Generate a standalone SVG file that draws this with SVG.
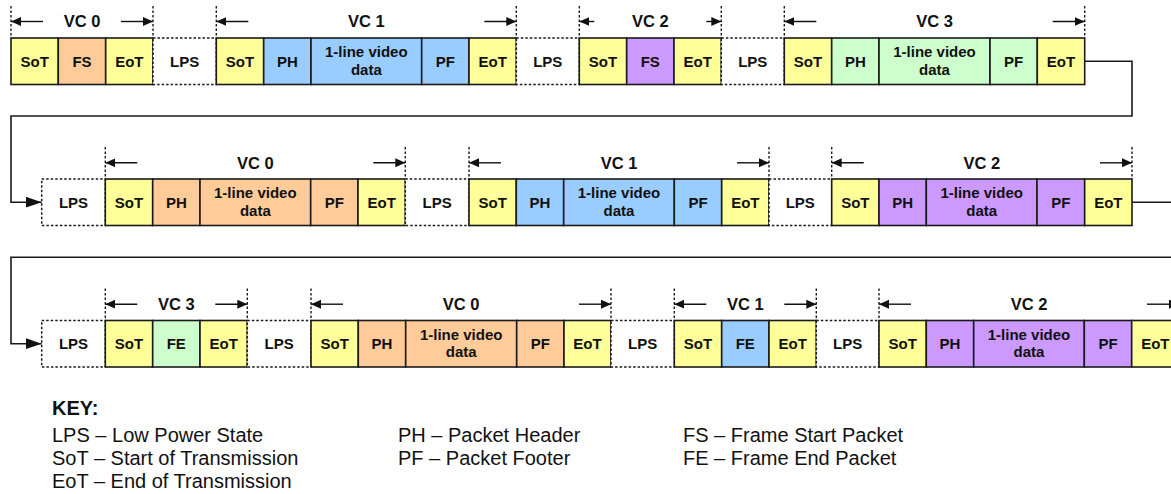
<svg xmlns="http://www.w3.org/2000/svg" width="1171" height="494" viewBox="0 0 1171 494">
<style>
.b{stroke:#1a1a1a;stroke-width:1.6}
.y{fill:#ffff99}.o{fill:#ffcc99}.bl{fill:#99ccff}.p{fill:#cc99ff}.g{fill:#ccffcc}
.lps{fill:#fff;stroke:#1a1a1a;stroke-width:1.5;stroke-dasharray:2.5 2}
.t{font-family:"Liberation Sans",Arial,sans-serif;font-weight:bold;font-size:15px;fill:#111;text-anchor:middle}
.vc{font-family:"Liberation Sans",Arial,sans-serif;font-weight:bold;font-size:16.5px;fill:#111;text-anchor:middle}
.dv{stroke:#1a1a1a;stroke-width:1.4;stroke-dasharray:2.5 2;fill:none}
.ar{stroke:#111;stroke-width:1.4;fill:none;marker-end:url(#sa)}
.cn{stroke:#1a1a1a;stroke-width:1.6;fill:none}
.k{font-family:"Liberation Sans",Arial,sans-serif;font-size:20px;fill:#111}
.kb{font-family:"Liberation Sans",Arial,sans-serif;font-size:20px;font-weight:bold;fill:#111}
</style>
<defs>
<marker id="sa" markerUnits="userSpaceOnUse" markerWidth="11" markerHeight="10" refX="10" refY="4.5" orient="auto"><path d="M0,0 L10,4.5 L0,9 Z" fill="#111"/></marker>
<marker id="ba" markerUnits="userSpaceOnUse" markerWidth="17" markerHeight="12" refX="16" refY="5.5" orient="auto"><path d="M0,0 L16,5.5 L0,11 Z" fill="#111"/></marker>
</defs>

<!-- Row 1 -->
<g id="r1-sot0"><rect class="b y" x="11" y="38" width="47.3" height="46.5"/><text class="t" x="34.7" y="66.5">SoT</text></g>
<g id="r1-fs0"><rect class="b o" x="58.3" y="38" width="47.4" height="46.5"/><text class="t" x="82" y="66.5">FS</text></g>
<g id="r1-eot0"><rect class="b y" x="105.7" y="38" width="47.3" height="46.5"/><text class="t" x="129.3" y="66.5">EoT</text></g>
<g id="r1-lps1"><rect class="lps" x="153" y="38" width="63.3" height="46.5"/><text class="t" x="184.7" y="66.5">LPS</text></g>
<g id="r1-sot1"><rect class="b y" x="216.3" y="38" width="47.4" height="46.5"/><text class="t" x="240" y="66.5">SoT</text></g>
<g id="r1-ph1"><rect class="b bl" x="263.7" y="38" width="47.3" height="46.5"/><text class="t" x="287.3" y="66.5">PH</text></g>
<g id="r1-data1"><rect class="b bl" x="311" y="38" width="110.7" height="46.5"/><text class="t" x="366.3" y="57">1-line video</text><text class="t" x="366.3" y="74.7">data</text></g>
<g id="r1-pf1"><rect class="b bl" x="421.7" y="38" width="47.3" height="46.5"/><text class="t" x="445.3" y="66.5">PF</text></g>
<g id="r1-eot1"><rect class="b y" x="469" y="38" width="47.3" height="46.5"/><text class="t" x="492.7" y="66.5">EoT</text></g>
<g id="r1-lps2"><rect class="lps" x="516.3" y="38" width="63" height="46.5"/><text class="t" x="547.8" y="66.5">LPS</text></g>
<g id="r1-sot2"><rect class="b y" x="579.3" y="38" width="47.4" height="46.5"/><text class="t" x="603" y="66.5">SoT</text></g>
<g id="r1-fs2"><rect class="b p" x="626.7" y="38" width="47.3" height="46.5"/><text class="t" x="650.3" y="66.5">FS</text></g>
<g id="r1-eot2"><rect class="b y" x="674" y="38" width="47.3" height="46.5"/><text class="t" x="697.7" y="66.5">EoT</text></g>
<g id="r1-lps3"><rect class="lps" x="721.3" y="38" width="63" height="46.5"/><text class="t" x="752.8" y="66.5">LPS</text></g>
<g id="r1-sot3"><rect class="b y" x="784.3" y="38" width="47.4" height="46.5"/><text class="t" x="808" y="66.5">SoT</text></g>
<g id="r1-ph3"><rect class="b g" x="831.7" y="38" width="47.3" height="46.5"/><text class="t" x="855.3" y="66.5">PH</text></g>
<g id="r1-data3"><rect class="b g" x="879" y="38" width="111" height="46.5"/><text class="t" x="934.5" y="57">1-line video</text><text class="t" x="934.5" y="74.7">data</text></g>
<g id="r1-pf3"><rect class="b g" x="990" y="38" width="47.3" height="46.5"/><text class="t" x="1013.7" y="66.5">PF</text></g>
<g id="r1-eot3"><rect class="b y" x="1037.3" y="38" width="47.4" height="46.5"/><text class="t" x="1061" y="66.5">EoT</text></g>

<!-- Row 2 -->
<g id="r2-lps0"><rect class="lps" x="41.7" y="179" width="63.6" height="46.5"/><text class="t" x="73.5" y="207.5">LPS</text></g>
<g id="r2-sot0"><rect class="b y" x="105.3" y="179" width="47.4" height="46.5"/><text class="t" x="129" y="207.5">SoT</text></g>
<g id="r2-ph0"><rect class="b o" x="152.7" y="179" width="47.3" height="46.5"/><text class="t" x="176.3" y="207.5">PH</text></g>
<g id="r2-data0"><rect class="b o" x="200" y="179" width="110.7" height="46.5"/><text class="t" x="255.3" y="198">1-line video</text><text class="t" x="255.3" y="215.7">data</text></g>
<g id="r2-pf0"><rect class="b o" x="310.7" y="179" width="47.3" height="46.5"/><text class="t" x="334.3" y="207.5">PF</text></g>
<g id="r2-eot0"><rect class="b y" x="358" y="179" width="47.3" height="46.5"/><text class="t" x="381.7" y="207.5">EoT</text></g>
<g id="r2-lps1"><rect class="lps" x="405.3" y="179" width="63.7" height="46.5"/><text class="t" x="437.2" y="207.5">LPS</text></g>
<g id="r2-sot1"><rect class="b y" x="469" y="179" width="47.3" height="46.5"/><text class="t" x="492.7" y="207.5">SoT</text></g>
<g id="r2-ph1"><rect class="b bl" x="516.3" y="179" width="47.4" height="46.5"/><text class="t" x="540" y="207.5">PH</text></g>
<g id="r2-data1"><rect class="b bl" x="563.7" y="179" width="110.6" height="46.5"/><text class="t" x="619" y="198">1-line video</text><text class="t" x="619" y="215.7">data</text></g>
<g id="r2-pf1"><rect class="b bl" x="674.3" y="179" width="47.4" height="46.5"/><text class="t" x="698" y="207.5">PF</text></g>
<g id="r2-eot1"><rect class="b y" x="721.7" y="179" width="47.3" height="46.5"/><text class="t" x="745.3" y="207.5">EoT</text></g>
<g id="r2-lps2"><rect class="lps" x="769" y="179" width="62.7" height="46.5"/><text class="t" x="800.3" y="207.5">LPS</text></g>
<g id="r2-sot2"><rect class="b y" x="831.7" y="179" width="47.3" height="46.5"/><text class="t" x="855.3" y="207.5">SoT</text></g>
<g id="r2-ph2"><rect class="b p" x="879" y="179" width="47.3" height="46.5"/><text class="t" x="902.7" y="207.5">PH</text></g>
<g id="r2-data2"><rect class="b p" x="926.3" y="179" width="110.7" height="46.5"/><text class="t" x="981.7" y="198">1-line video</text><text class="t" x="981.7" y="215.7">data</text></g>
<g id="r2-pf2"><rect class="b p" x="1037" y="179" width="47.7" height="46.5"/><text class="t" x="1060.8" y="207.5">PF</text></g>
<g id="r2-eot2"><rect class="b y" x="1084.7" y="179" width="47.3" height="46.5"/><text class="t" x="1108.3" y="207.5">EoT</text></g>

<!-- Row 3 -->
<g id="r3-lps0"><rect class="lps" x="41.7" y="320.5" width="63.6" height="46.5"/><text class="t" x="73.5" y="349">LPS</text></g>
<g id="r3-sot3"><rect class="b y" x="105.3" y="320.5" width="47.4" height="46.5"/><text class="t" x="129" y="349">SoT</text></g>
<g id="r3-fe3"><rect class="b g" x="152.7" y="320.5" width="47.3" height="46.5"/><text class="t" x="176.3" y="349">FE</text></g>
<g id="r3-eot3"><rect class="b y" x="200" y="320.5" width="47.3" height="46.5"/><text class="t" x="223.7" y="349">EoT</text></g>
<g id="r3-lps1"><rect class="lps" x="247.3" y="320.5" width="63.7" height="46.5"/><text class="t" x="279.2" y="349">LPS</text></g>
<g id="r3-sot0"><rect class="b y" x="311" y="320.5" width="47.3" height="46.5"/><text class="t" x="334.7" y="349">SoT</text></g>
<g id="r3-ph0"><rect class="b o" x="358.3" y="320.5" width="47.4" height="46.5"/><text class="t" x="382" y="349">PH</text></g>
<g id="r3-data0"><rect class="b o" x="405.7" y="320.5" width="111" height="46.5"/><text class="t" x="461.2" y="339.5">1-line video</text><text class="t" x="461.2" y="357.2">data</text></g>
<g id="r3-pf0"><rect class="b o" x="516.7" y="320.5" width="47.3" height="46.5"/><text class="t" x="540.3" y="349">PF</text></g>
<g id="r3-eot0"><rect class="b y" x="564" y="320.5" width="47" height="46.5"/><text class="t" x="587.5" y="349">EoT</text></g>
<g id="r3-lps2"><rect class="lps" x="611" y="320.5" width="63.3" height="46.5"/><text class="t" x="642.7" y="349">LPS</text></g>
<g id="r3-sot1"><rect class="b y" x="674.3" y="320.5" width="47.4" height="46.5"/><text class="t" x="698" y="349">SoT</text></g>
<g id="r3-fe1"><rect class="b bl" x="721.7" y="320.5" width="47.3" height="46.5"/><text class="t" x="745.3" y="349">FE</text></g>
<g id="r3-eot1"><rect class="b y" x="769" y="320.5" width="47.3" height="46.5"/><text class="t" x="792.7" y="349">EoT</text></g>
<g id="r3-lps3"><rect class="lps" x="816.3" y="320.5" width="62.7" height="46.5"/><text class="t" x="847.7" y="349">LPS</text></g>
<g id="r3-sot2"><rect class="b y" x="879" y="320.5" width="47.3" height="46.5"/><text class="t" x="902.7" y="349">SoT</text></g>
<g id="r3-ph2"><rect class="b p" x="926.3" y="320.5" width="47.4" height="46.5"/><text class="t" x="950" y="349">PH</text></g>
<g id="r3-data2"><rect class="b p" x="973.7" y="320.5" width="110.6" height="46.5"/><text class="t" x="1029" y="339.5">1-line video</text><text class="t" x="1029" y="357.2">data</text></g>
<g id="r3-pf2"><rect class="b p" x="1084.3" y="320.5" width="47.4" height="46.5"/><text class="t" x="1108" y="349">PF</text></g>
<g id="r3-eot2"><rect class="b y" x="1131.7" y="320.5" width="47.3" height="46.5"/><text class="t" x="1155.3" y="349">EoT</text></g>

<!-- VC span labels -->
<g id="vc-spans">
<path class="dv" d="M11,6V38 M153,6V38 M216.3,6V38 M516.3,6V38 M579.3,6V38 M721.3,6V38 M784.3,6V38 M1084.7,6V38"/>
<path class="dv" d="M105.3,147V179 M405.3,147V179 M469,147V179 M769,147V179 M831.7,147V179 M1132,147V179"/>
<path class="dv" d="M105.3,288.5V320.5 M247.3,288.5V320.5 M311,288.5V320.5 M611,288.5V320.5 M674.3,288.5V320.5 M816.3,288.5V320.5 M879,288.5V320.5 M1179,288.5V320.5"/>
<text class="vc" x="82" y="27.3">VC 0</text>
<text class="vc" x="366.3" y="27.3">VC 1</text>
<text class="vc" x="650.3" y="27.3">VC 2</text>
<text class="vc" x="934.5" y="27.3">VC 3</text>
<text class="vc" x="255.3" y="168.5">VC 0</text>
<text class="vc" x="619" y="168.5">VC 1</text>
<text class="vc" x="981.8" y="168.5">VC 2</text>
<text class="vc" x="176.3" y="310">VC 3</text>
<text class="vc" x="461" y="310">VC 0</text>
<text class="vc" x="745.3" y="310">VC 1</text>
<text class="vc" x="1029" y="310">VC 2</text>
<path class="ar" d="M43,21.5H11"/><path class="ar" d="M121,21.5H153"/>
<path class="ar" d="M248.3,21.5H216.3"/><path class="ar" d="M484.3,21.5H516.3"/>
<path class="ar" d="M594.3,21.5H579.3"/><path class="ar" d="M706.3,21.5H721.3"/>
<path class="ar" d="M816.3,21.5H784.3"/><path class="ar" d="M1052.7,21.5H1084.7"/>
<path class="ar" d="M137.3,162.8H105.3"/><path class="ar" d="M373.3,162.8H405.3"/>
<path class="ar" d="M501,162.8H469"/><path class="ar" d="M737,162.8H769"/>
<path class="ar" d="M863.7,162.8H831.7"/><path class="ar" d="M1100,162.8H1132"/>
<path class="ar" d="M137.3,304.2H105.3"/><path class="ar" d="M215.3,304.2H247.3"/>
<path class="ar" d="M343,304.2H311"/><path class="ar" d="M579,304.2H611"/>
<path class="ar" d="M706.3,304.2H674.3"/><path class="ar" d="M784.3,304.2H816.3"/>
<path class="ar" d="M911,304.2H879"/><path class="ar" d="M1147,304.2H1179"/>
</g>

<!-- Connectors -->
<g id="connectors">
<path class="cn" d="M1084.7,61.2H1132V116H11V202.2H41.7" marker-end="url(#ba)"/>
<path class="cn" d="M1132,202.2H1180"/>
<path class="cn" d="M1180,257.3H11V343.7H41.7" marker-end="url(#ba)"/>
</g>

<!-- Key -->
<g id="key">
<text class="kb" x="52" y="415">KEY:</text>
<text class="k" x="52" y="442">LPS – Low Power State</text>
<text class="k" x="52" y="465">SoT – Start of Transmission</text>
<text class="k" x="52" y="488">EoT – End of Transmission</text>
<text class="k" x="398" y="442">PH – Packet Header</text>
<text class="k" x="398" y="465">PF – Packet Footer</text>
<text class="k" x="683" y="442">FS – Frame Start Packet</text>
<text class="k" x="683" y="465">FE – Frame End Packet</text>
</g>
</svg>
